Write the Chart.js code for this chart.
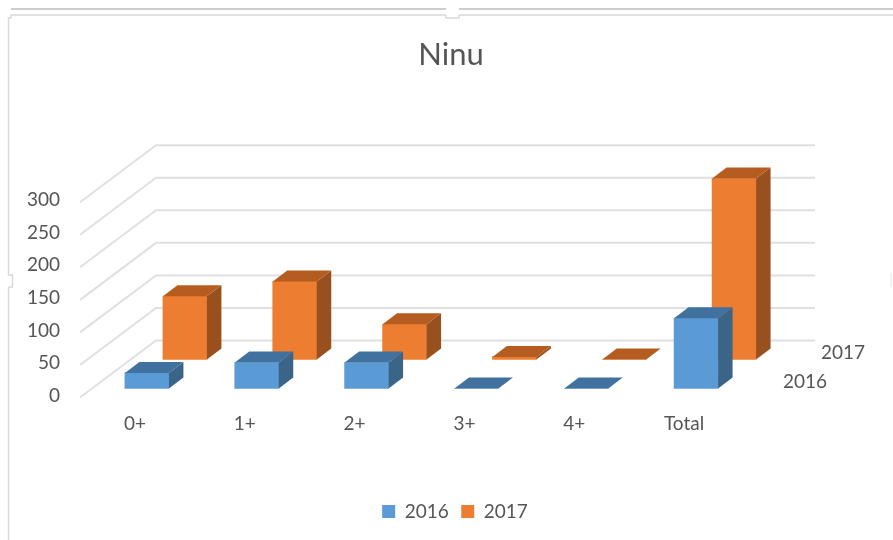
<!DOCTYPE html>
<html>
<head>
<meta charset="utf-8">
<title>Ninu</title>
<style>
  html, body { margin: 0; padding: 0; background: #fff; }
  #wrap { width: 893px; height: 540px; }
  #chart { filter: blur(0.55px); }
</style>
<script src="https://cdn.jsdelivr.net/npm/chart.js@4/dist/chart.umd.js"></script>
</head>
<body>
<div id="wrap"><canvas id="chart" width="893" height="540"></canvas></div>
<script>
const categories = ['0+', '1+', '2+', '3+', '4+', 'Total'];
const series_names = ['2016', '2017'];
const values_2016 = [24, 40, 40, 0, 0, 108];
const values_2017 = [97, 120, 54, 4, 0, 278];
const y_ticks = [0, 50, 100, 150, 200, 250, 300];

const front_colors = ['#5B9BD5', '#ED7D31'];
const side_colors = ['#3A6589', '#97501E'];
const top_colors = ['#41729F', '#B55D20'];

const text_color = '#555555';
const font_family = 'Lato, "Open Sans", sans-serif';

// the 2017 row sits behind 2016, bar depth is the same for both
const row_shift = [[0, 0], [38, -29]];
const bar_depth = [14.5, 11];

function fillPoly(ctx, color, pts) {
  ctx.fillStyle = color;
  ctx.beginPath();
  pts.forEach((p, i) => i ? ctx.lineTo(p[0], p[1]) : ctx.moveTo(p[0], p[1]));
  ctx.closePath();
  ctx.fill();
}

// window frame around the pasted chart
const frame = {
  id: 'frame',
  beforeDraw(chart) {
    const ctx = chart.ctx;
    ctx.save();
    ctx.fillStyle = '#fff';
    ctx.fillRect(0, 0, 893, 540);
    ctx.strokeStyle = '#bdbdbd';
    ctx.lineWidth = 1.5;
    ctx.beginPath();
    ctx.moveTo(11, 9);
    ctx.lineTo(893, 9);
    ctx.stroke();
    ctx.strokeStyle = '#d9d9d9';
    ctx.beginPath();
    ctx.moveTo(893, 15);
    ctx.lineTo(11, 15);
    ctx.lineTo(11, 18);
    ctx.lineTo(8.5, 18);
    ctx.lineTo(8.5, 540);
    ctx.stroke();
    // resize handles
    ctx.fillStyle = '#fff';
    ctx.fillRect(446, 7, 13, 11);
    ctx.fillRect(7, 275, 6, 12);
    ctx.beginPath();
    ctx.moveTo(446, 15);
    ctx.lineTo(446, 18);
    ctx.lineTo(459, 18);
    ctx.lineTo(459, 15);
    ctx.moveTo(8.5, 275);
    ctx.lineTo(12.5, 275);
    ctx.lineTo(12.5, 287);
    ctx.lineTo(8.5, 287);
    ctx.stroke();
    ctx.strokeStyle = '#eeeeee';
    ctx.beginPath();
    ctx.moveTo(891, 273);
    ctx.lineTo(891, 287);
    ctx.stroke();
    ctx.restore();
  },
  afterLayout(chart) {
    chart.legend.left += 4;
    chart.legend.right += 4;
  }
};

// floor edges, left wall and back wall
const walls = {
  id: 'walls',
  beforeDatasetsDraw(chart) {
    const ctx = chart.ctx;
    const y = chart.scales.y;
    const left = y.right - 12;
    ctx.save();
    ctx.strokeStyle = '#e0e0e0';
    ctx.lineWidth = 2;
    y_ticks.forEach(v => {
      const py = y.getPixelForValue(v) + 9;
      ctx.beginPath();
      ctx.moveTo(left, py);
      ctx.lineTo(left + 76, py - 57);
      ctx.lineTo(chart.chartArea.right + 64, py - 57);
      ctx.stroke();
    });
    ctx.restore();
  },
  afterDatasetsDraw(chart) {
    const ctx = chart.ctx;
    const x0 = chart.chartArea.right + 32;
    const y0 = chart.scales.y.getPixelForValue(0) - 7;
    ctx.save();
    ctx.fillStyle = text_color;
    ctx.font = '19px ' + font_family;
    ctx.textAlign = 'left';
    ctx.textBaseline = 'middle';
    series_names.forEach((name, i) => {
      ctx.fillText(name, x0 + row_shift[i][0], y0 + row_shift[i][1]);
    });
    ctx.restore();
  }
};

// shift each row back and add the side and top faces of its bars
const depth = {
  id: 'depth',
  beforeDatasetDraw(chart, args) {
    chart.ctx.save();
    chart.ctx.translate(row_shift[args.index][0], row_shift[args.index][1]);
  },
  afterDatasetDraw(chart, args) {
    const ctx = chart.ctx;
    const dx = bar_depth[0];
    const dy = bar_depth[1];
    args.meta.data.forEach(bar => {
      const l = bar.x - bar.width / 2;
      const r = bar.x + bar.width / 2;
      fillPoly(ctx, side_colors[args.index], [[r, bar.y], [r + dx, bar.y - dy], [r + dx, bar.base - dy], [r, bar.base]]);
      fillPoly(ctx, top_colors[args.index], [[l, bar.y], [l + dx, bar.y - dy], [r + dx, bar.y - dy], [r, bar.y]]);
    });
    ctx.restore();
  }
};

const config = {
  type: 'bar',
  data: {
    labels: categories,
    datasets: [
      { label: series_names[0], data: values_2016, backgroundColor: front_colors[0] },
      { label: series_names[1], data: values_2017, backgroundColor: front_colors[1] }
    ]
  },
  options: {
    responsive: false,
    animation: false,
    grouped: false,
    barThickness: 44,
    clip: false,
    layout: { padding: { left: 9, right: 0, top: 0, bottom: 9 } },
    plugins: {
      tooltip: { enabled: false },
      title: {
        display: true,
        text: 'Ninu',
        color: text_color,
        font: { family: font_family, size: 31, weight: 'normal' },
        padding: { top: 36, bottom: 120 }
      },
      legend: {
        position: 'bottom',
        labels: {
          boxWidth: 13,
          boxHeight: 13,
          padding: 12.5,
          color: text_color,
          font: { family: font_family, size: 19 }
        }
      }
    },
    scales: {
      x: {
        grid: { display: false, drawTicks: false },
        border: { display: false },
        ticks: {
          color: text_color,
          font: { family: font_family, size: 19 },
          padding: 24,
          labelOffset: -12,
          autoSkip: false,
          maxRotation: 0
        },
        afterFit(scale) { scale.height = 101; }
      },
      y: {
        min: 0,
        max: 300,
        afterBuildTicks(scale) { scale.ticks = y_ticks.map(v => ({ value: v })); },
        grid: { display: false, drawTicks: false },
        border: { display: false },
        ticks: {
          color: text_color,
          font: { family: font_family, size: 19 },
          padding: 32,
          labelOffset: 7
        },
        afterFit(scale) { scale.width = 83; }
      },
      // only keeps the space on the right for the depth labels
      spacer: {
        position: 'right',
        grid: { display: false, drawTicks: false },
        border: { display: false },
        ticks: { display: false },
        afterFit(scale) { scale.width = 142; }
      }
    }
  },
  plugins: [frame, walls, depth]
};

new Chart(document.getElementById('chart'), config);
</script>
</body>
</html>
